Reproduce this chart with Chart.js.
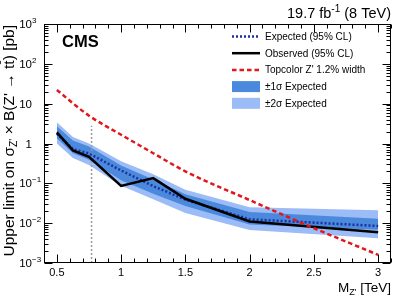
<!DOCTYPE html>
<html>
<head>
<meta charset="utf-8">
<script src="https://cdn.jsdelivr.net/npm/chart.js@4.4.0/dist/chart.umd.min.js"></script>
<style>
body { margin: 0; background: #fff; }
#wrap { width: 399px; height: 305px; }
</style>
</head>
<body>
<div id="wrap"><canvas id="limits" width="399" height="305"></canvas></div>
<script>
/* Z' -> ttbar upper limits, 19.7 fb-1 at 8 TeV */

const masses = [0.5, 0.625, 0.75, 1.0, 1.25, 1.5, 2.0, 3.0];
const observed = [1.9, 0.67, 0.46, 0.086, 0.135, 0.041, 0.011, 0.0059];
const expected = [1.75, 0.72, 0.56, 0.21, 0.085, 0.039, 0.0125, 0.0085];
const exp1Up = [2.7, 1.19, 0.84, 0.28, 0.125, 0.053, 0.019, 0.013];
const exp1Down = [1.35, 0.57, 0.39, 0.12, 0.055, 0.027, 0.0093, 0.0068];
const exp2Up = [3.4, 1.45, 1.0, 0.36, 0.17, 0.069, 0.025, 0.021];
const exp2Down = [1.0, 0.43, 0.29, 0.087, 0.04, 0.018, 0.0067, 0.0042];

const topMasses = [0.5, 0.75, 1.0, 1.25, 1.5, 2.0, 2.5, 3.0];
const topXsec = [22, 5.0, 1.66, 0.57, 0.2, 0.038, 0.0075, 0.0016];

const markerMass = [0.77, 0.77];
const markerRange = [0.001, 2.8];

const xTickValues = [0.5, 1, 1.5, 2, 2.5, 3];
const xTickLabels = ["0.5", "1", "1.5", "2", "2.5", "3"];
const yTickExps = [-3, -2, -1, 0, 1, 2, 3];

const FONT = "'Liberation Sans', Arial, Helvetica, sans-serif";
const DARK = "#4a89dc";
const LIGHT = "#9bbcf6";

function pts(xs, ys) {
    return xs.map((x, i) => ({x: x, y: ys[i]}));
}

/* draw a row of text pieces (for sub/superscripts), left or right aligned */
function drawRuns(ctx, runs, x, y, align) {
    let total = 0;
    runs.forEach((r) => {
        ctx.font = (r.bold ? "bold " : "") + r.size + "px " + FONT;
        r.w = ctx.measureText(r.t).width;
        total += r.w;
    });
    let cx = align === "right" ? x - total : x;
    runs.forEach((r) => {
        ctx.font = (r.bold ? "bold " : "") + r.size + "px " + FONT;
        ctx.fillText(r.t, cx, y + (r.dy || 0));
        if (r.bar) {
            ctx.fillRect(cx + 0.5, y + (r.dy || 0) - r.size * 0.92, r.w - 1, 1);
        }
        cx += r.w;
    });
}

const decor = {
    id: "decor",
    afterDraw(chart) {
        const ctx = chart.ctx;
        const a = chart.chartArea;
        const xs = chart.scales.x;
        const ys = chart.scales.y;
        const L = Math.round(a.left) + 0.5, R = Math.round(a.right) - 0.5;
        const T = Math.round(a.top) + 0.5, B = Math.round(a.bottom) - 0.5;

        ctx.save();
        ctx.strokeStyle = "#000";
        ctx.fillStyle = "#000";
        ctx.lineWidth = 1;
        ctx.setLineDash([]);
        ctx.strokeRect(L, T, R - L, B - T);

        // x ticks, inward on bottom and top
        ctx.beginPath();
        for (let k = 4; k <= 31; k++) {
            const px = Math.round(xs.getPixelForValue(k / 10)) + 0.5;
            const len = k % 5 === 0 ? 8 : 4;
            ctx.moveTo(px, B); ctx.lineTo(px, B - len);
            ctx.moveTo(px, T); ctx.lineTo(px, T + len);
        }
        // y ticks, inward on left and right
        for (let e = -3; e <= 2; e++) {
            for (let m = 1; m <= 9; m++) {
                const py = Math.round(ys.getPixelForValue(m * Math.pow(10, e))) + 0.5;
                const len = m === 1 ? 8 : 4;
                ctx.moveTo(L, py); ctx.lineTo(L + len, py);
                ctx.moveTo(R, py); ctx.lineTo(R - len, py);
            }
        }
        ctx.stroke();

        // tick labels
        ctx.textBaseline = "alphabetic";
        ctx.font = "11px " + FONT;
        ctx.textAlign = "center";
        xTickValues.forEach((v, i) => {
            ctx.fillText(xTickLabels[i], xs.getPixelForValue(v), 276);
        });
        ctx.textAlign = "left";
        yTickExps.forEach((e) => {
            const py = ys.getPixelForValue(Math.pow(10, e));
            const base = e === 0 ? "1" : "10";
            const runs = [{t: base, size: 11.5}];
            if (e !== 0 && e !== 1) {
                runs.push({t: e < 0 ? "\u2212" + (-e) : String(e), size: 8, dy: -5});
            }
            // base right-aligned at x=32, exponent hangs after it
            ctx.font = "11.5px " + FONT;
            const bw = ctx.measureText(base).width;
            drawRuns(ctx, runs, 32 - bw, py + 4, "left");
        });

        // x axis title
        drawRuns(ctx, [
            {t: "M", size: 13.5},
            {t: "Z'", size: 9, dy: 3},
            {t: " [TeV]", size: 13.5}
        ], 391, 292, "right");

        // y axis title (rotated)
        ctx.save();
        ctx.translate(14, 25);
        ctx.rotate(-Math.PI / 2);
        drawRuns(ctx, [
            {t: "Upper limit on \u03c3", size: 15.5},
            {t: "Z'", size: 10.5, dy: 3},
            {t: " \u00d7 B(Z' \u2192 t", size: 15.5},
            {t: "t", size: 15.5, bar: true},
            {t: ") [pb]", size: 15.5}
        ], 0, 0, "right");
        ctx.restore();

        // lumi label
        drawRuns(ctx, [
            {t: "19.7 fb", size: 14.5},
            {t: "-1", size: 10, dy: -6},
            {t: " (8 TeV)", size: 14.5}
        ], 391, 18, "right");

        // CMS label
        drawRuns(ctx, [{t: "CMS", size: 16.5, bold: true}], 62, 47, "left");

        // legend
        const ds = chart.data.datasets;
        const rows = [
            {d: ds[4], text: "Expected (95% CL)"},
            {d: ds[5], text: "Observed (95% CL)"},
            {d: ds[6], text: "Topcolor Z' 1.2% width"},
            {box: DARK, text: "\u00b11\u03c3 Expected"},
            {box: LIGHT, text: "\u00b12\u03c3 Expected"}
        ];
        rows.forEach((r, i) => {
            const y = 36.5 + i * 16.7;
            if (r.box) {
                ctx.fillStyle = r.box;
                ctx.fillRect(232, y - 5.5, 28, 11);
            } else {
                ctx.strokeStyle = r.d.borderColor;
                ctx.lineWidth = r.d.borderWidth;
                ctx.setLineDash(r.d.borderDash || []);
                ctx.beginPath();
                ctx.moveTo(232, y);
                ctx.lineTo(260, y);
                ctx.stroke();
                ctx.setLineDash([]);
            }
            ctx.fillStyle = "#000";
            ctx.font = "10px " + FONT;
            ctx.fillText(r.text, 265, y + 3.5);
        });
        ctx.restore();
    }
};

const lineBase = {pointRadius: 0, fill: false, tension: 0};

new Chart(document.getElementById("limits"), {
    type: "line",
    data: {
        datasets: [
            {...lineBase, data: pts(masses, exp2Up), borderWidth: 0, backgroundColor: LIGHT, fill: "+1", order: 9},
            {...lineBase, data: pts(masses, exp2Down), borderWidth: 0, order: 8},
            {...lineBase, data: pts(masses, exp1Up), borderWidth: 0, backgroundColor: DARK, fill: "+1", order: 7},
            {...lineBase, data: pts(masses, exp1Down), borderWidth: 0, order: 6},
            {...lineBase, data: pts(masses, expected), borderColor: "#1f2f9e", borderWidth: 2.5, borderDash: [2, 2], order: 3},
            {...lineBase, data: pts(masses, observed), borderColor: "#000", borderWidth: 2.5, order: 2},
            {...lineBase, data: pts(topMasses, topXsec), borderColor: "#e2161b", borderWidth: 2.5, borderDash: [4.5, 3], cubicInterpolationMode: "monotone", order: 1},
            {...lineBase, data: pts(markerMass, markerRange), borderColor: "#9a9a9a", borderWidth: 1.5, borderDash: [2, 2], order: 4}
        ]
    },
    options: {
        responsive: false,
        animation: false,
        events: [],
        layout: {padding: {left: 44, right: 8, top: 24, bottom: 42}},
        plugins: {legend: {display: false}, tooltip: {enabled: false}},
        scales: {
            x: {type: "linear", min: 0.4, max: 3.1, display: false},
            y: {type: "logarithmic", min: 0.001, max: 1000, display: false}
        }
    },
    plugins: [decor]
});
</script>
</body>
</html>
